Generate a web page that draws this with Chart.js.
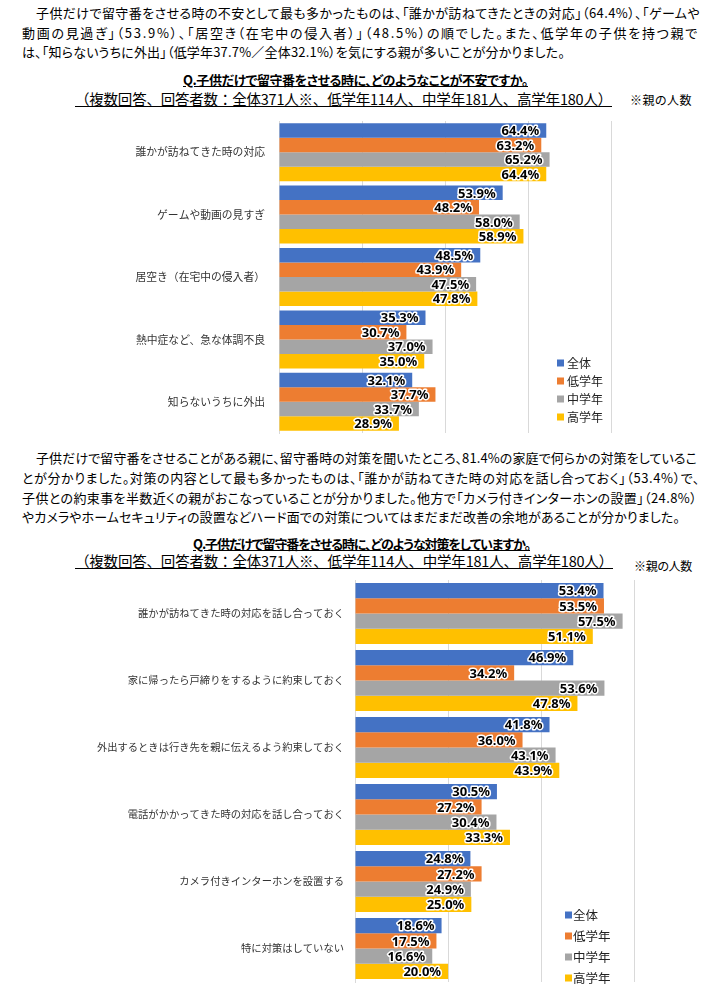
<!DOCTYPE html>
<html>
<head>
<meta charset="utf-8">
<script src="https://cdn.jsdelivr.net/npm/chart.js@4.4.0/dist/chart.umd.min.js"></script>
<style>
  body { margin: 0; width: 720px; height: 994px; position: relative; overflow: hidden; background: #fff;
         font-family: "Noto Sans CJK JP", sans-serif; color: #000; }
  .t { position: absolute; white-space: nowrap; line-height: 18px; font-size: 13px; font-feature-settings: "palt"; }
  .ttl { font-weight: bold; text-decoration: underline; }
  .sub { text-decoration: underline; font-size: 14.5px; font-feature-settings: normal; }
  .note { font-size: 12px; }
  canvas { position: absolute; left: 0; }
</style>
</head>
<body>

<span class="t" style="left:36px;top:4px" data-w="664">子供だけで留守番をさせる時の不安として最も多かったものは、「誰かが訪ねてきたときの対応」（64.4%）、「ゲームや</span>
<span class="t" style="left:22px;top:24px" data-w="677">動画の見過ぎ」（53.9%）、「居空き（在宅中の侵入者）」（48.5%）の順でした。また、低学年の子供を持つ親で</span>
<span class="t" style="left:22px;top:43px" data-w="543">は、「知らないうちに外出」（低学年37.7%／全体32.1%）を気にする親が多いことが分かりました。</span>

<span class="t ttl" style="left:183px;top:71px" data-w="345">Q.子供だけで留守番をさせる時に、どのようなことが不安ですか。</span>
<span class="t sub" style="left:75px;top:90px" data-w="537">（複数回答、回答者数：全体371人※、低学年114人、中学年181人、高学年180人）</span>
<span class="t note" style="left:630px;top:91px" data-w="62">※親の人数</span>

<canvas id="chartA" width="720" height="330" style="top:110px"></canvas>

<span class="t" style="left:36px;top:449px" data-w="661">子供だけで留守番をさせることがある親に、留守番時の対策を聞いたところ、81.4%の家庭で何らかの対策をしているこ</span>
<span class="t" style="left:22px;top:469px" data-w="678">とが分かりました。対策の内容として最も多かったものは、「誰かが訪ねてきた時の対応を話し合っておく」（53.4%）で、</span>
<span class="t" style="left:22px;top:489px" data-w="675">子供との約束事を半数近くの親がおこなっていることが分かりました。他方で「カメラ付きインターホンの設置」（24.8%）</span>
<span class="t" style="left:22px;top:508px" data-w="658">やカメラやホームセキュリティの設置などハード面での対策についてはまだまだ改善の余地があることが分かりました。</span>

<span class="t ttl" style="left:193px;top:535px" data-w="337">Q.子供だけで留守番をさせる時に、どのような対策をしていますか。</span>
<span class="t sub" style="left:75px;top:552px" data-w="538">（複数回答、回答者数：全体371人※、低学年114人、中学年181人、高学年180人）</span>
<span class="t note" style="left:634px;top:557px" data-w="58">※親の人数</span>

<canvas id="chartB" width="720" height="424" style="top:570px"></canvas>

<script>
const seriesNames = ['全体', '低学年', '中学年', '高学年'];
const seriesColors = ['#4472C4', '#ED7D31', '#A5A5A5', '#FFC000'];

// Q1: 不安なこと
const worryLabels = ['誰かが訪ねてきた時の対応', 'ゲームや動画の見すぎ', '居空き（在宅中の侵入者）', '熱中症など、急な体調不良', '知らないうちに外出'];
const worryAll  = [64.4, 53.9, 48.5, 35.3, 32.1];
const worryLow  = [63.2, 48.2, 43.9, 30.7, 37.7];
const worryMid  = [65.2, 58.0, 47.5, 37.0, 33.7];
const worryHigh = [64.4, 58.9, 47.8, 35.0, 28.9];

// Q2: している対策
const measureLabels = ['誰かが訪ねてきた時の対応を話し合っておく', '家に帰ったら戸締りをするように約束しておく', '外出するときは行き先を親に伝えるよう約束しておく',
                       '電話がかかってきた時の対応を話し合っておく', 'カメラ付きインターホンを設置する', '特に対策はしていない'];
const measureAll  = [53.4, 46.9, 41.8, 30.5, 24.8, 18.6];
const measureLow  = [53.5, 34.2, 36.0, 27.2, 27.2, 17.5];
const measureMid  = [57.5, 53.6, 43.1, 30.4, 24.9, 16.6];
const measureHigh = [51.1, 47.8, 43.9, 33.3, 25.0, 20.0];

// stretch each text line to the width it has in the picture
function fitLines() {
  document.querySelectorAll('[data-w]').forEach(el => {
    el.style.letterSpacing = '0px';
    const nat = el.getBoundingClientRect().width;
    const n = [...el.textContent].length;
    el.style.letterSpacing = ((+el.dataset.w - nat) / n) + 'px';
  });
}
fitLines();
document.fonts.ready.then(fitLines);

const valueLabels = {
  id: 'valueLabels',
  afterDatasetsDraw(chart) {
    const ctx = chart.ctx;
    ctx.save();
    ctx.font = 'bold 13px "Noto Sans", sans-serif';
    ctx.textAlign = 'right';
    ctx.textBaseline = 'middle';
    ctx.lineJoin = 'round';
    ctx.lineWidth = 3;
    ctx.strokeStyle = '#fff';
    ctx.fillStyle = '#000';
    chart.data.datasets.forEach((ds, i) => {
      chart.getDatasetMeta(i).data.forEach((bar, j) => {
        const txt = ds.data[j].toFixed(1) + '%';
        ctx.strokeText(txt, bar.x - 7, bar.y + 1);
        ctx.fillText(txt, bar.x - 7, bar.y + 1);
      });
    });
    ctx.restore();
  }
};

const boxLegend = {
  id: 'boxLegend',
  afterDraw(chart, args, opts) {
    const ctx = chart.ctx;
    ctx.save();
    ctx.font = opts.size + 'px "Noto Sans CJK JP"';
    ctx.textBaseline = 'middle';
    chart.data.datasets.forEach((ds, i) => {
      const y = opts.y + i * opts.step;
      ctx.fillStyle = ds.backgroundColor;
      ctx.fillRect(opts.x, y - 3.5, 7, 7);
      ctx.fillStyle = '#222';
      ctx.fillText(ds.label, opts.x + opts.gap, y);
    });
    ctx.restore();
  }
};

function makeChart(id, labels, series, c) {
  const datasets = series.map((d, i) => ({
    label: seriesNames[i],
    data: d,
    backgroundColor: seriesColors[i],
    borderWidth: 0,
    categoryPercentage: c.catPct,
    barPercentage: 1
  }));
  return new Chart(document.getElementById(id), {
    type: 'bar',
    data: { labels: labels, datasets: datasets },
    plugins: [valueLabels, boxLegend],
    options: {
      indexAxis: 'y',
      responsive: false,
      animation: false,
      devicePixelRatio: 1,
      layout: { padding: c.padding, autoPadding: false },
      plugins: {
        legend: { display: false },
        tooltip: { enabled: false },
        boxLegend: c.legend
      },
      scales: {
        x: {
          min: 0, max: c.max,
          afterFit: scale => { scale.height = 0; },
          ticks: { display: false, stepSize: 20 },
          grid: { color: ctx => ctx.tick && ctx.tick.value % 20 === 0 ? '#d9d9d9' : 'rgba(0,0,0,0)', drawTicks: false },
          border: { display: false }
        },
        y: {
          afterFit: scale => {
            scale.width = c.axisLeft;
            scale.paddingTop = 0;
            scale.paddingBottom = 0;
          },
          ticks: { color: '#333', padding: c.labelPad, font: { family: '"Noto Sans CJK JP"', size: c.labelSize } },
          grid: { display: false, drawTicks: false },
          border: { color: '#d9d9d9' }
        }
      }
    }
  });
}

makeChart('chartA', worryLabels, [worryAll, worryLow, worryMid, worryHigh], {
  catPct: 0.93, max: 80, axisLeft: 279, labelPad: 14, labelSize: 10.8,
  padding: { top: 11, bottom: 7, left: 0, right: 109 },
  legend: { x: 557, y: 253, step: 18, size: 12, gap: 10 }
});

makeChart('chartB', measureLabels, [measureAll, measureLow, measureMid, measureHigh], {
  catPct: 0.91, max: 78, axisLeft: 355, labelPad: 11, labelSize: 10.3,
  padding: { top: 10, bottom: 12, left: 0, right: 2 },
  legend: { x: 565, y: 345, step: 21, size: 12.5, gap: 8 }
});
</script>
</body>
</html>
